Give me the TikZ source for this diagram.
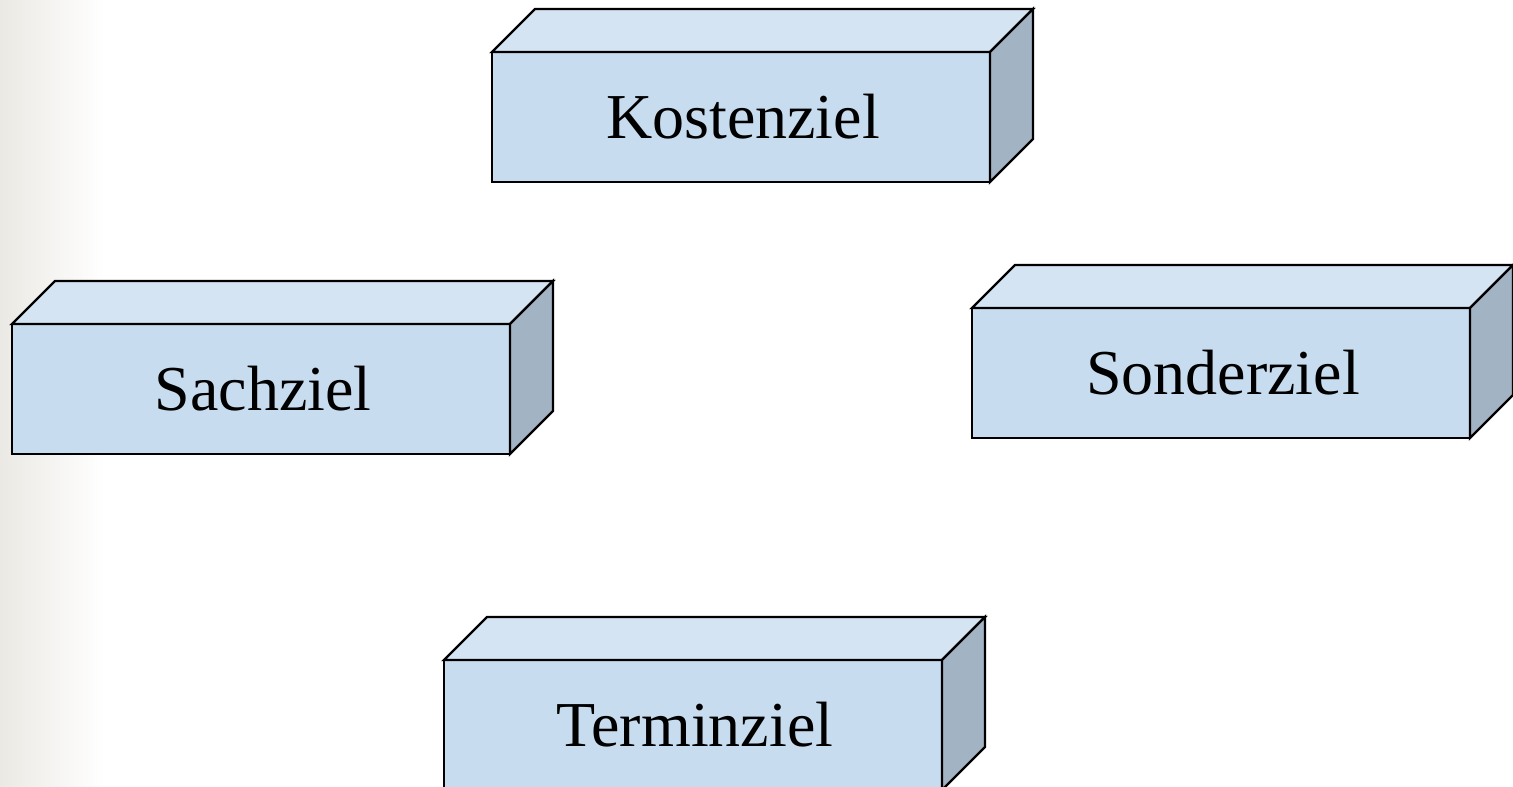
\documentclass[tikz,border=0pt]{standalone}
\usepackage{fontspec}
\setmainfont{Liberation Serif}
\definecolor{frontc}{HTML}{C7DCEF}
\definecolor{topc}{HTML}{D4E4F3}
\definecolor{sidec}{HTML}{A2B3C3}
\definecolor{bgc}{HTML}{EBE9E4}
\tikzset{
  frontbox/.style={draw=black, fill=frontc, line width=2.4pt, line join=miter,
    minimum width=498pt, minimum height=130pt, inner sep=0pt, outer sep=0pt,
    anchor=north west, font=\fontsize{64}{70}\selectfont},
  topface/.style={draw=black, fill=topc, line width=2.4pt, line join=miter},
  sideface/.style={draw=black, fill=sidec, line width=2.4pt, line join=miter},
}
\newcommand\zfaces[1]{%
  \draw[topface] (#1.north west) -- ++(43pt,43pt) -- ++(498pt,0pt) -- (#1.north east) -- cycle;
  \draw[sideface] (#1.north east) -- ++(43pt,43pt) -- ++(0pt,-130pt) -- (#1.south east) -- cycle;
}
\begin{document}
\begin{tikzpicture}[x=1pt,y=1pt]
\useasboundingbox (0,0) rectangle (1513,-787);
\clip (0,0) rectangle (1513,-787);
\fill[white] (0,0) rectangle (1513,-787);
\shade[left color=bgc, right color=white] (0,0) rectangle (104,-787);
\node[frontbox] (kosten) at (492,-52) {\hspace*{4pt}Kostenziel};
\zfaces{kosten}
\node[frontbox] (sach) at (12,-324) {\hspace*{4pt}Sachziel};
\zfaces{sach}
\node[frontbox] (sonder) at (972,-308) {\hspace*{4pt}Sonderziel};
\zfaces{sonder}
\node[frontbox] (termin) at (444,-660) {\hspace*{4pt}Terminziel};
\zfaces{termin}
\end{tikzpicture}
\end{document}
